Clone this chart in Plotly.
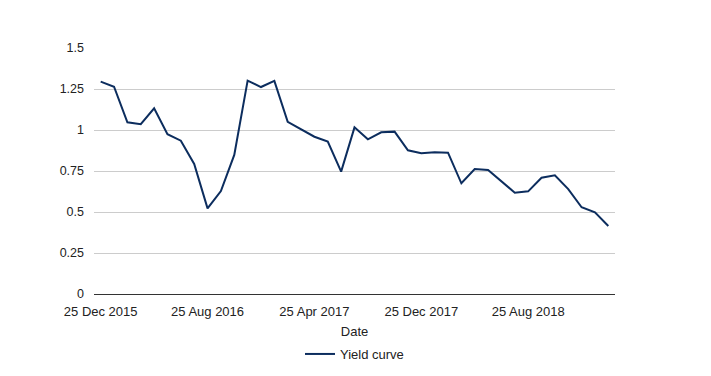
import plotly.graph_objects as go
import pandas as pd

start = "2015-12-01"
values = [1.295, 1.264, 1.047, 1.035, 1.132, 0.974, 0.935, 0.793, 0.522, 0.628,
          0.848, 1.301, 1.262, 1.299, 1.050, 1.004, 0.959, 0.929, 0.746, 1.016,
          0.943, 0.986, 0.990, 0.876, 0.858, 0.864, 0.862, 0.675, 0.762, 0.756,
          0.685, 0.618, 0.626, 0.709, 0.724, 0.640, 0.529, 0.498, 0.415]
dates = pd.date_range(start=start, periods=len(values), freq="MS") + pd.Timedelta(days=24)
labels = [d.strftime("%-d %b %Y") for d in dates]
tick_every = 8
y_ticks = [0, 0.25, 0.5, 0.75, 1, 1.25, 1.5]

fig = go.Figure()
fig.add_trace(go.Scatter(x=labels, y=values, mode="lines", name="Yield curve",
                         line=dict(color="#0c2d5e", width=2)))

fig.update_layout(
    width=711, height=376,
    margin=dict(l=94, r=96, t=48, b=82),
    paper_bgcolor="white", plot_bgcolor="white",
    font=dict(family="Liberation Sans, Arial, sans-serif", size=13, color="#222"),
    showlegend=True,
    legend=dict(orientation="h", x=0.5, xanchor="center", yref="container",
                y=1 - 354 / 376, yanchor="middle",
                font=dict(size=13, color="#222")),
    xaxis=dict(type="category", range=[-0.5, len(values) - 0.5], automargin=False,
               tickvals=labels[::tick_every], ticktext=labels[::tick_every],
               showgrid=False, showline=False, zeroline=False, ticks="",
               ticklabelstandoff=8,
               title=dict(text="Date", standoff=10, font=dict(size=13, color="#222")),
               tickfont=dict(size=13, color="#222")),
    yaxis=dict(range=[0, 1.5], tickvals=y_ticks, showgrid=True, gridcolor="#cccccc",
               gridwidth=1, zeroline=True, zerolinecolor="#333333", zerolinewidth=1,
               showline=False, ticks="", ticklabelstandoff=9, automargin=False,
               tickfont=dict(size=12.5, color="#222")),
)

fig.write_html("out.html", config={"displayModeBar": False},
               post_script="document.body.style.margin='0';")
